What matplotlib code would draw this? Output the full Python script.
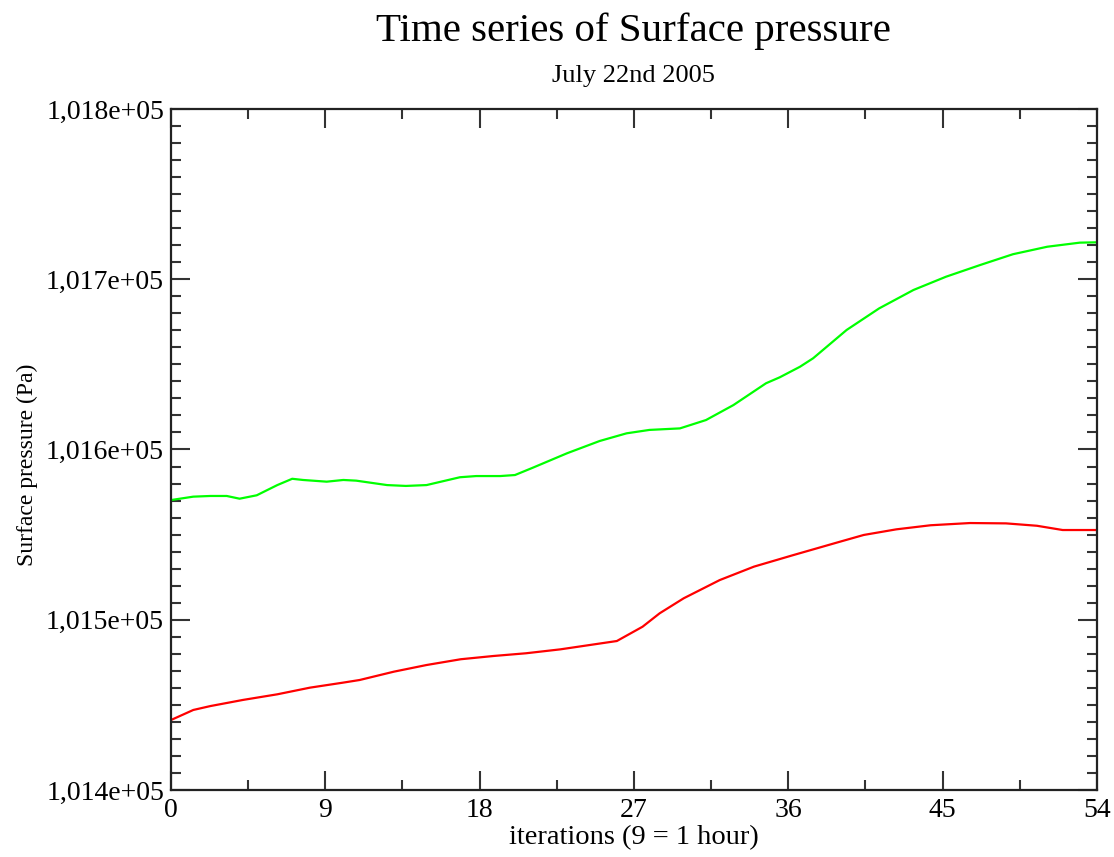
import matplotlib
matplotlib.use("Agg")
import matplotlib.pyplot as plt
from matplotlib.ticker import MultipleLocator, FuncFormatter

# values (iteration, Pa)
green_x = [0, 1.3, 2.3, 3.25, 4.0, 5.0, 6.2, 7.07, 7.7, 9.08, 10.05, 10.8, 12.6,
           13.7, 14.9, 16.85, 17.8, 19.2, 20.06, 21.1, 23.1, 25.0, 26.57, 27.9,
           29.68, 31.2, 32.8, 34.7, 35.5, 36.68, 37.45, 39.4, 41.3, 43.3, 45.2,
           47.2, 49.1, 51.1, 53.0, 54]
green_p = [101570.3, 101572.3, 101572.7, 101572.7, 101571.1, 101573.1, 101579.1,
           101582.8, 101582.1, 101581.1, 101582.1, 101581.7, 101579.1, 101578.6,
           101579.1, 101583.7, 101584.4, 101584.4, 101585.0, 101589.3, 101597.8,
           101605.0, 101609.5, 101611.5, 101612.4, 101617.3, 101626.1, 101638.9,
           101642.4, 101648.6, 101653.6, 101670.2, 101682.9, 101693.7, 101701.5,
           101708.4, 101714.7, 101719.1, 101721.5, 101721.7]

red_x = [0, 1.3, 2.3, 4.2, 6.2, 8.1, 10.0, 11.0, 13.0, 14.9, 16.9, 18.8, 20.7,
         22.7, 26.0, 27.5, 28.5, 29.9, 32.0, 34.0, 36.3, 39.0, 40.4, 42.3, 44.3,
         46.6, 48.7, 50.5, 52.0, 54]
red_p = [101441.1, 101447.0, 101449.3, 101452.9, 101456.2, 101460.1, 101463.0,
         101464.6, 101469.5, 101473.4, 101476.8, 101478.7, 101480.3, 101482.6,
         101487.5, 101495.9, 101503.8, 101512.6, 101523.3, 101531.2, 101538.0,
         101545.8, 101549.8, 101553.1, 101555.5, 101556.8, 101556.6, 101555.2,
         101552.7, 101552.7]

plt.rcParams["font.family"] = ["Liberation Serif", "DejaVu Serif"]

fig = plt.figure(figsize=(11.14, 8.57), dpi=100)
ax = fig.add_axes([0.1535, 0.0782, 0.9847 - 0.1535, 0.8728 - 0.0782])

ax.plot(green_x, green_p, color="#00ff00", lw=1.6)
ax.plot(red_x, red_p, color="#ff0000", lw=1.6)

ax.set_xlim(0, 54)
ax.set_ylim(101400, 101800)
ax.xaxis.set_major_locator(MultipleLocator(9))
ax.xaxis.set_minor_locator(MultipleLocator(4.5))
ax.yaxis.set_major_locator(MultipleLocator(100))
ax.yaxis.set_minor_locator(MultipleLocator(10))
ax.yaxis.set_major_formatter(FuncFormatter(lambda v, _: f"{v:.3e}".replace(".", ",")))

for s in ax.spines.values():
    s.set_linewidth(1.6)
    s.set_color("#222222")
ax.tick_params(which="both", direction="in", top=True, right=True,
               color="#333333", labelsize=20, width=1.5)
ax.tick_params(which="major", length=14)
ax.tick_params(which="minor", length=7)
ax.tick_params(axis="x", pad=6)
ax.tick_params(axis="y", pad=5)

ax.set_xlabel("iterations (9 = 1 hour)", fontsize=20.5, labelpad=1)
ax.set_ylabel("Surface pressure (Pa)", fontsize=17)
ax.yaxis.set_label_coords(-0.144, 0.477)

fig.text(0.569, 0.964, "Time series of Surface pressure", ha="center", va="center", fontsize=29.5)
fig.text(0.569, 0.911, "July 22nd 2005", ha="center", va="center", fontsize=19)

fig.savefig("out.png", dpi=100)
